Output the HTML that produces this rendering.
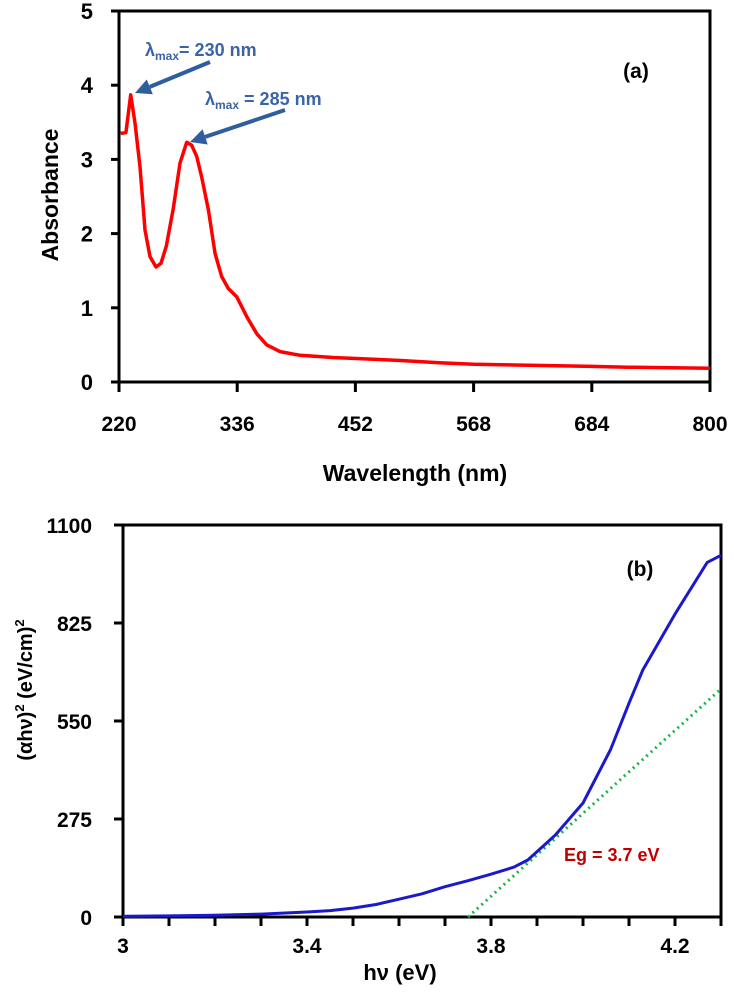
<!DOCTYPE html>
<html><head><meta charset="utf-8"><style>
html,body{margin:0;padding:0;background:#fff;}
svg{display:block;font-family:"Liberation Sans",sans-serif;font-weight:bold;}
</style></head><body>
<svg width="734" height="992" viewBox="0 0 734 992">
<g id="chartA"></g>
<g id="chartB"></g>
</svg>
<script>
const wlValues=[221.7,226.8,231.5,235.7,240.6,245.5,250.4,256.3,261.2,266.4,273.3,279.9,286.4,291.3,296.3,301.2,307.7,314.3,320.8,327.3,335.5,345.4,355.2,365,378,397.7,430,496.7,534,568,684,720,800];
const absValues=[3.35,3.36,3.87,3.49,2.9,2.05,1.69,1.55,1.6,1.83,2.34,2.95,3.23,3.19,3.04,2.76,2.32,1.73,1.42,1.26,1.15,0.88,0.65,0.5,0.41,0.36,0.33,0.29,0.26,0.24,0.21,0.2,0.185];
const wlTicks=[220,336,452,568,684,800];
const absTicks=[0,1,2,3,4,5];
const hvValues=[3.0,3.1,3.2,3.3,3.4,3.45,3.5,3.55,3.6,3.65,3.7,3.75,3.8,3.85,3.88,3.94,4.0,4.06,4.1,4.13,4.2,4.27,4.3];
const tauValues=[2,3,5,8,14,18,25,35,50,65,85,102,120,140,160,230,320,470,600,693,850,995,1015];
const hvTicks=[3,3.4,3.8,4.2];
const tauTicks=[0,275,550,825,1100];
const fitLine=[[3.75,0],[4.3,640]];

const NS="http://www.w3.org/2000/svg";
function mk(parent,tag,attrs,text){const e=document.createElementNS(NS,tag);for(const k in attrs)e.setAttribute(k,attrs[k]);if(text!==undefined)e.textContent=text;parent.appendChild(e);return e;}

// Chart A
const A=document.getElementById('chartA');
const ax=v=>119+(v-220)*(710-119)/(800-220);
const ay=v=>382-v*(382-11)/5;
let e;
e=mk(A,'path',{d:`M112 ${ay(5)} H710 V${ay(0)} H112`,fill:'none',stroke:'#000','stroke-width':3});


e=mk(A,'line',{x1:119,y1:ay(5)-1.5,x2:119,y2:ay(0)+1.5,stroke:'#000','stroke-width':3});


absTicks.forEach(t=>{
 e=mk(A,'line',{x1:111,y1:ay(t),x2:119,y2:ay(t),stroke:'#000','stroke-width':3});
 
 
 e=mk(A,'text',{x:93,y:ay(t)+8,'text-anchor':'end','font-size':22,fill:'#000'},String(t));
 
 
});
wlTicks.forEach(t=>{
 e=mk(A,'line',{x1:ax(t),y1:ay(0),x2:ax(t),y2:ay(0)+10,stroke:'#000','stroke-width':3});
 
 
 e=mk(A,'text',{x:ax(t),y:431,'text-anchor':'middle','font-size':21,fill:'#000'},String(t));
 
 
});
e=mk(A,'polyline',{points:wlValues.map((w,i)=>ax(w).toFixed(1)+','+ay(absValues[i]).toFixed(1)).join(' '),fill:'none',stroke:'#ff0000','stroke-width':3.5,'stroke-linejoin':'round'});


e=mk(A,'text',{x:415,y:481,'text-anchor':'middle','font-size':23,fill:'#000'},'Wavelength (nm)');


e=mk(A,'text',{x:0,y:0,'text-anchor':'middle','font-size':23,fill:'#000',transform:'translate(58,195) rotate(-90)'},'Absorbance');


e=mk(A,'text',{x:636,y:78,'text-anchor':'middle','font-size':21,fill:'#000'},'(a)');


function arrow(x1,y1,x2,y2,name){
 const dx=x2-x1,dy=y2-y1,L=Math.hypot(dx,dy),ux=dx/L,uy=dy/L;
 const bx=x2-ux*16,by=y2-uy*16;
 const g=mk(A,'g',{});
 
 
 mk(g,'line',{x1:x1,y1:y1,x2:bx,y2:by,stroke:'#2F5D9E','stroke-width':4});
 mk(g,'polygon',{points:`${x2},${y2} ${bx-uy*8},${by+ux*8} ${bx+uy*8},${by-ux*8}`,fill:'#2F5D9E'});
}
arrow(210,62,135,93,'arrow-230');
arrow(285,110,190,142,'arrow-285');
e=mk(A,'text',{x:145,y:56,'font-size':18,fill:'#3B64A8'});
e.innerHTML='λ<tspan font-size="12" dy="4">max</tspan><tspan dy="-4">= 230 nm</tspan>';


e=mk(A,'text',{x:205,y:105,'font-size':18,fill:'#3B64A8'});
e.innerHTML='λ<tspan font-size="12" dy="4">max</tspan><tspan dy="-4"> = 285 nm</tspan>';



// Chart B
const B=document.getElementById('chartB');
const bx=v=>123+(v-3)*(721-123)/1.3;
const by=v=>917-v*(917-525)/1100;
e=mk(B,'rect',{x:123,y:525,width:598,height:392,fill:'none',stroke:'#000','stroke-width':3});


tauTicks.forEach(t=>{
 e=mk(B,'line',{x1:114,y1:by(t),x2:123,y2:by(t),stroke:'#000','stroke-width':3});
 
 
 e=mk(B,'text',{x:92,y:by(t)+8,'text-anchor':'end','font-size':21,fill:'#000'},String(t));
 
 
});
for(let i=0;i<=13;i++){
 e=mk(B,'line',{x1:bx(3+i*0.1),y1:917,x2:bx(3+i*0.1),y2:926,stroke:'#000','stroke-width':3});
 
 
}
hvTicks.forEach(t=>{
 e=mk(B,'text',{x:bx(t),y:953,'text-anchor':'middle','font-size':21,fill:'#000'},String(t));
 
 
});
e=mk(B,'line',{x1:bx(fitLine[0][0]),y1:by(fitLine[0][1]),x2:bx(fitLine[1][0]),y2:by(fitLine[1][1]),stroke:'#1db34a','stroke-width':3,'stroke-dasharray':'2 4'});


e=mk(B,'polyline',{points:hvValues.map((h,i)=>bx(h).toFixed(1)+','+by(tauValues[i]).toFixed(1)).join(' '),fill:'none',stroke:'#1a1acc','stroke-width':3,'stroke-linejoin':'round'});


e=mk(B,'text',{x:564,y:861,'font-size':18,fill:'#C00000'},'Eg = 3.7 eV');


e=mk(B,'text',{x:640,y:576,'text-anchor':'middle','font-size':21,fill:'#000'},'(b)');


e=mk(B,'text',{x:400,y:980,'text-anchor':'middle','font-size':22,fill:'#000'},'hν (eV)');


e=mk(B,'text',{x:0,y:0,'text-anchor':'middle','font-size':20,fill:'#000',transform:'translate(32,690) rotate(-90)'});
e.innerHTML='(αhν)<tspan font-size="13" dy="-8">2</tspan><tspan dy="8"> (eV/cm)</tspan><tspan font-size="13" dy="-8">2</tspan>';


</script>
</body></html>
